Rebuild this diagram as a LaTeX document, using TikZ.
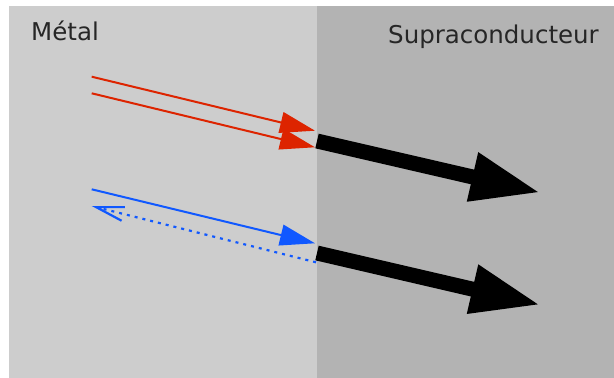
\documentclass[tikz,border=0pt]{standalone}
\usepackage{fontspec}
\setmainfont{DejaVu Sans}
\usepackage{xcolor}
\definecolor{metalgray}{RGB}{205,205,205}
\definecolor{supragray}{RGB}{179,179,179}
\definecolor{elred}{RGB}{221,36,0}
\definecolor{holeblue}{RGB}{16,88,255}
\usetikzlibrary{arrows.meta}
\tikzset{
  lbl/.style={font=\fontsize{24.5}{28}\selectfont,text=black!85,inner sep=0pt,anchor=base west},
  elec/.style={-{Triangle[length=35pt,width=21pt]},line width=2pt,draw=elred},
  hole/.style={-{Triangle[length=35pt,width=21pt]},line width=2pt,draw=holeblue},
  refl/.style={-{Straight Barb[length=28pt,width=14pt]},line width=2.2pt,draw=holeblue,dash pattern=on 3pt off 5pt},
  pair/.style={-{Triangle[length=70pt,width=46pt]},line width=15pt,draw=black},
}

\begin{document}
\begin{tikzpicture}[x=1pt,y=-1pt]
\useasboundingbox (0,0) rectangle (614,378);
\fill[white] (0,0) rectangle (614,378);
% the two media
\fill[metalgray] (9,6) rectangle (317,378);
\fill[supragray] (317,6) rectangle (614,378);
\node[lbl] (metal) at (31,40) {Métal};
\node[lbl] (supra) at (388,43.3) {Supraconducteur};

% incoming electron pair
\coordinate (e1a) at (91.7,76.7);
\coordinate (e1b) at (315,130.7);
\coordinate (e2a) at (91.7,93.3);
\coordinate (e2b) at (315,147.3);
\draw[elec] (e1a) -- (e1b);
\draw[elec] (e2a) -- (e2b);

% electron in, hole reflected
\coordinate (h1a) at (91.7,189.3);
\coordinate (h1b) at (315,243.3);
\coordinate (h2a) at (316,262.3);
\coordinate (h2b) at (91.7,206);
\draw[hole] (h1a) -- (h1b);
\draw[refl] (h2a) -- (h2b);

% Cooper pairs in the superconductor
\coordinate (c1a) at (317,141);
\coordinate (c1b) at (540.7,192.7);
\coordinate (c2a) at (317,253);
\coordinate (c2b) at (540.7,305);
\draw[pair] (c1a) -- (c1b);
\draw[pair] (c2a) -- (c2b);
\end{tikzpicture}
\end{document}
